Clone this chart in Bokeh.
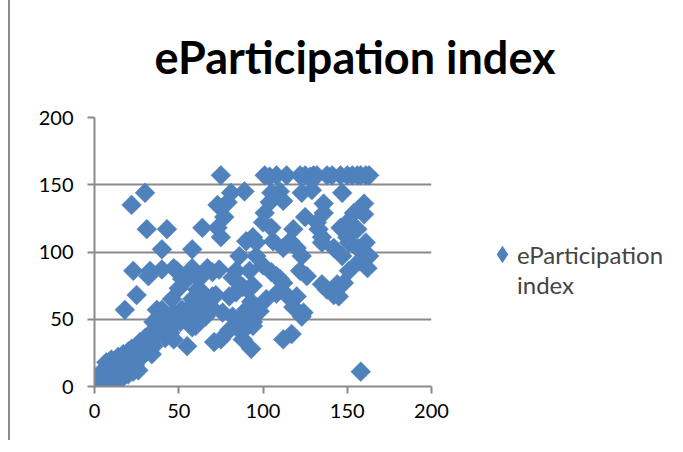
import math
from bokeh.plotting import figure
from bokeh.models import Legend, LegendItem, FixedTicker, Range1d
from bokeh.embed import file_html
from bokeh.resources import INLINE

title_text = "eParticipation index"
legend_line1 = "eParticipation"
legend_line2 = "index"
tick_values = [0, 50, 100, 150, 200]

x_vals = [
    75, 101, 104, 108, 114, 122, 125, 128, 130, 132, 138, 141, 146, 150, 153, 156, 158, 161, 163,
    30, 22, 81, 89, 105, 110, 123, 129, 147,
    79, 104, 112, 136, 160,
    73, 77, 101, 136, 154, 160,
    100, 125, 132, 150,
    31, 43, 64, 73, 105, 118, 133, 146, 156,
    75, 94, 135, 150,
    90, 106, 116, 135, 151, 161,
    40, 58, 112, 120, 142, 156, 96,
    86, 96, 123, 147, 163, 157, 100,
    58, 67, 162, 47, 40,
    23, 33, 49, 70, 84, 92, 105, 122, 151, 74,
    108, 126, 82, 32,
    55, 62, 110, 52,
    112, 148, 135, 144,
    61, 91, 138, 88, 94, 50,
    64, 84, 108, 114, 142, 25,
    70, 80, 72, 120, 145, 102, 46, 58,
    93, 118, 66,
    18, 37, 52, 40, 90, 98, 76, 124,
    50, 82, 123, 86, 40, 35, 51, 94,
    60, 91, 94, 58, 44, 86, 80,
    117, 112, 40, 47, 75, 88, 71, 93, 55, 31,
    158,
    0, 1, 2, 3, 3, 4, 5, 5, 6, 7, 7, 8, 9, 9, 10, 10, 11, 12, 12, 13,
    14, 14, 15, 15, 16, 17, 17, 18, 18, 19, 20, 20, 21, 21, 22, 22, 23, 24, 24, 25,
    25, 26, 27, 27, 28, 29, 30, 30, 32, 32, 33, 34, 35, 36, 37, 38,
    39, 41, 42, 43, 44, 45, 47, 49, 51, 53,
    56, 58, 62, 66, 70, 65,
]
y_vals = [
    157, 157, 156, 157, 157, 157, 157, 156, 157, 157, 157, 157, 157, 157, 157, 157, 157, 157, 157,
    144, 135, 144, 145, 144, 145, 144, 146, 144,
    137, 137, 138, 136, 136,
    135, 126, 129, 129, 129, 128,
    122, 126, 122, 122,
    117, 117, 118, 118, 118, 117, 117, 118, 117,
    111, 111, 111, 111,
    108, 108, 108, 107, 107, 107,
    102, 102, 103, 103, 103, 103, 107,
    97, 97, 97, 97, 97, 93, 90,
    88, 88, 88, 88, 87,
    86, 86, 86, 85, 86, 86, 85, 86, 86, 87,
    82, 82, 81, 82,
    80, 80, 80, 80,
    77, 77, 76, 76,
    72, 72, 72, 74, 75, 73,
    70, 70, 69, 68, 68, 68,
    67, 67, 68, 67, 67, 65, 65, 65,
    63, 59, 60,
    57, 57, 57, 57, 57, 56, 55, 55,
    52, 52, 52, 50, 50, 48, 48, 48,
    45, 45, 45, 44, 42, 42, 42,
    39, 35, 39, 35, 35, 35, 33, 28, 30, 30,
    11,
    0, 2, 5, 1, 8, 3, 12, 6, 2, 9, 18, 4, 14, 7, 11, 20, 3, 8, 16, 12,
    22, 5, 18, 10, 14, 7, 24, 20, 12, 16, 26, 9, 22, 14, 28, 18, 11, 24, 16, 30,
    20, 12, 26, 33, 22, 30, 25, 36, 28, 38, 33, 24, 30, 36, 40, 44,
    47, 40, 36, 44, 52, 40, 54, 50, 56, 52,
    58, 54, 55, 52, 58, 62,
]

BLUE = "#4F81BD"
GRID = "#8a8a8a"
FONT = "Lato"
NAN = float("nan")

p = figure(
    frame_width=337, frame_height=269,
    min_border_left=84, min_border_right=235, min_border_top=115, min_border_bottom=54,
    x_range=Range1d(0, 200), y_range=Range1d(0, 200),
    output_backend="svg", toolbar_location=None,
    title=title_text,
    styles={"border-left": "2px solid #8c8c8c", "margin-left": "8px", "margin-top": "-6px"},
)

r = p.scatter(x_vals, y_vals, marker="square", size=14, angle=math.pi / 4,
              fill_color=BLUE, line_color=BLUE, line_width=0.5)
# legend-only renderers (not drawn inside the plot)
r_leg = p.scatter([NAN], [NAN], marker="diamond", size=14, fill_color=BLUE,
                  line_color=BLUE, line_width=3, line_join="miter")
r_blank = p.scatter([NAN], [NAN], marker="circle", size=1, fill_alpha=0, line_alpha=0)

p.title.text_font = FONT
p.title.text_font_size = "45px"
p.title.text_font_style = "bold"
p.title.align = "left"
p.title.offset = 60
p.title.standoff = 67
p.title.text_color = "black"

for ax in (p.xaxis[0], p.yaxis[0]):
    ax.ticker = FixedTicker(ticks=tick_values)
    ax.minor_tick_line_color = None
    ax.axis_line_color = GRID
    ax.axis_line_width = 2
    ax.major_tick_line_color = GRID
    ax.major_tick_line_width = 2
    ax.major_tick_in = 0
    ax.major_tick_out = 7
    ax.major_label_text_font = FONT
    ax.major_label_text_font_size = "20px"
    ax.major_label_text_color = "black"
p.xaxis.major_label_standoff = 10
p.yaxis.major_label_standoff = 14

p.xgrid.grid_line_color = None
p.ygrid.grid_line_color = GRID
p.ygrid.grid_line_width = 2
p.ygrid.ticker = FixedTicker(ticks=tick_values)
p.outline_line_color = None

legend = Legend(items=[LegendItem(label=legend_line1, renderers=[r_leg]),
                       LegendItem(label=legend_line2, renderers=[r_blank])],
                location=(56, 87), orientation="vertical",
                border_line_color=None, background_fill_alpha=0,
                label_text_font=FONT, label_text_font_size="24px",
                glyph_width=30, glyph_height=30, label_standoff=0,
                padding=0, margin=0, spacing=0)
p.add_layout(legend, "right")

open("out.html", "w").write(file_html(p, INLINE))
